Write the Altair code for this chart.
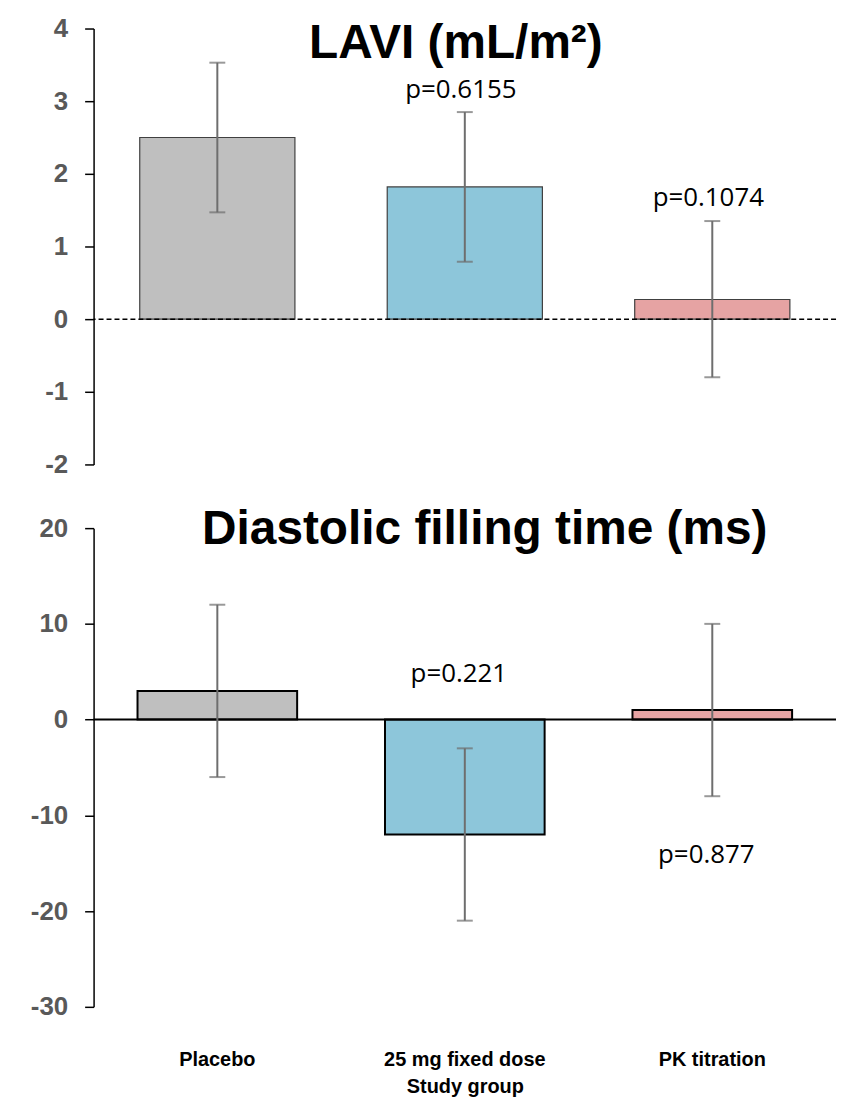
import altair as alt
import pandas as pd

# ---- data ----
groups = ["Placebo", "25 mg fixed dose", "PK titration"]
colors = ["#BFBFBF", "#8DC6DA", "#E6A3A3"]

lavi_mean = [2.50, 1.82, 0.27]
lavi_lo = [1.47, 0.79, -0.80]
lavi_hi = [3.53, 2.85, 1.35]
lavi_p_group = ["25 mg fixed dose", "PK titration"]
lavi_p_value = [3.15, 1.67]
lavi_p_text = ["p=0.6155", "p=0.1074"]

dft_mean = [3.0, -12.0, 1.0]
dft_lo = [-6.0, -21.0, -8.0]
dft_hi = [12.0, -3.0, 10.0]
dft_p_group = ["25 mg fixed dose", "PK titration"]
dft_p_value = [4.8, -14.1]
dft_p_text = ["p=0.221", "p=0.877"]

lavi_ticks = [-2, -1, 0, 1, 2, 3, 4]
dft_ticks = [-30, -20, -10, 0, 10, 20]

W = 746
H1 = 438
H2 = 481

AX_FONT = "Liberation Sans"
P_FONT = "Open Sans"

lavi_df = pd.DataFrame({"group": groups, "mean": lavi_mean, "lo": lavi_lo,
                        "hi": lavi_hi, "color": colors})
dft_df = pd.DataFrame({"group": groups, "mean": dft_mean, "lo": dft_lo,
                       "hi": dft_hi, "color": colors})
lavi_p = pd.DataFrame({"group": lavi_p_group, "y": lavi_p_value, "label": lavi_p_text})
dft_p = pd.DataFrame({"group": dft_p_group, "y": dft_p_value, "label": dft_p_text})

xscale = alt.Scale(domain=groups, paddingInner=0, paddingOuter=0)


def yaxis(values):
    return alt.Axis(values=values, title=None, grid=False, domainColor="black",
                    domainWidth=1.5, tickColor="black", tickWidth=1.5, tickSize=9,
                    labelFont=AX_FONT, labelFontWeight="bold", labelFontSize=26,
                    labelColor="#595959", labelPadding=17,
                    labelExpr="toString(datum.value)")


def panel(df, pdf, domain, ticks, height, title, title_x, title_y,
          zero_dash, bar_stroke, bar_sw, band, xaxis, pdx):
    ysc = alt.Scale(domain=domain, nice=False, zero=False)
    base = alt.Chart(df)
    x_enc = alt.X("group:N", scale=xscale, sort=groups, axis=xaxis)
    bars = base.mark_bar(stroke=bar_stroke, strokeWidth=bar_sw,
                         width=alt.RelativeBandSize(band)).encode(
        x=x_enc,
        y=alt.Y("mean:Q", scale=ysc, axis=yaxis(ticks)),
        y2=alt.datum(0),
        color=alt.Color("color:N", scale=None),
    )
    zero = alt.Chart(pd.DataFrame({"z": [0]})).mark_rule(
        color="black", strokeWidth=1.5 if zero_dash else 2,
        strokeDash=[5, 3] if zero_dash else [1, 0]).encode(y=alt.Y("z:Q", scale=ysc))
    err = base.mark_rule(color="#6E6E6E", strokeWidth=2).encode(
        x=alt.X("group:N", scale=xscale, sort=groups),
        y=alt.Y("lo:Q", scale=ysc), y2="hi:Q")
    cap_lo = base.mark_tick(color="#6E6E6E", thickness=2, size=16, orient="horizontal").encode(
        x=alt.X("group:N", scale=xscale, sort=groups), y=alt.Y("lo:Q", scale=ysc))
    cap_hi = base.mark_tick(color="#6E6E6E", thickness=2, size=16, orient="horizontal").encode(
        x=alt.X("group:N", scale=xscale, sort=groups), y=alt.Y("hi:Q", scale=ysc))
    ptxt = alt.Chart(pdf).mark_text(font=P_FONT, fontSize=26, color="black",
                                    baseline="middle", dx=pdx).encode(
        x=alt.X("group:N", scale=xscale, sort=groups),
        y=alt.Y("y:Q", scale=ysc), text="label:N")
    ttl = alt.Chart(pd.DataFrame({"t": [title]})).mark_text(
        font=AX_FONT, fontWeight="bold", fontSize=48, color="black",
        baseline="alphabetic", align="center").encode(
        text="t:N", x=alt.value(title_x), y=alt.value(title_y))
    return alt.layer(bars, zero, err, cap_lo, cap_hi, ptxt, ttl).properties(
        width=W, height=height)


top = panel(lavi_df, lavi_p, [-2, 4], lavi_ticks, H1, "LAVI (mL/m\u00b2)", 364, 30,
            True, "#404040", 1.2, 0.627, None, -4)

xaxis_bottom = alt.Axis(title="Study group", domain=False, ticks=False,
                        labelAngle=0, labelFont=AX_FONT, labelFontWeight="bold",
                        labelFontSize=20, labelColor="black", labelPadding=43,
                        titleFont=AX_FONT, titleFontWeight="bold", titleFontSize=20,
                        titleColor="black", titlePadding=7)
bottom = panel(dft_df, dft_p, [-30, 20], dft_ticks, H2, "Diastolic filling time (ms)",
               393, 16, False, "black", 2, 0.645, xaxis_bottom, -6)

chart = alt.vconcat(top, bottom, spacing=64, bounds="flush").properties(
    padding={"left": 22, "top": 5, "right": 5, "bottom": 5}
).configure_view(stroke=None)

chart.save("out.html", embed_options={"renderer": "svg", "actions": False})
